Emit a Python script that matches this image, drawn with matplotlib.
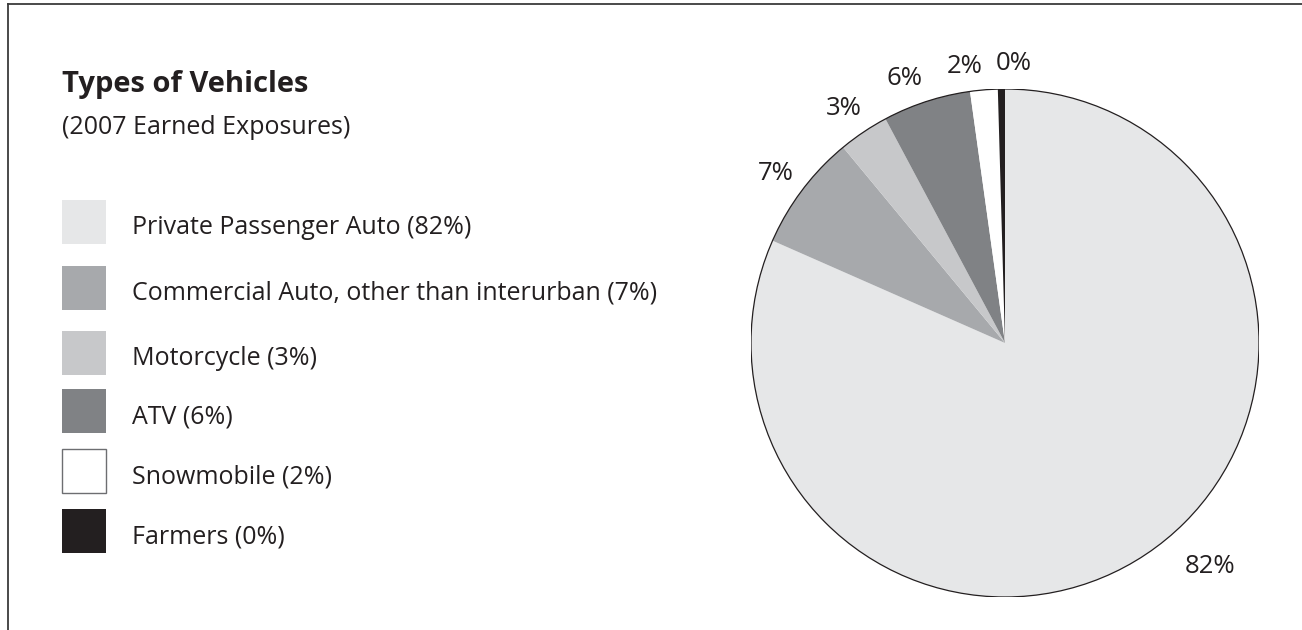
import numpy as np
import matplotlib
matplotlib.use("Agg")
import matplotlib.pyplot as plt
from matplotlib.patches import Rectangle, Circle
from matplotlib.lines import Line2D

# data
categories = ["Private Passenger Auto", "Commercial Auto, other than interurban",
              "Motorcycle", "ATV", "Snowmobile", "Farmers"]
shares = [81.6, 7.4, 3.2, 5.6, 1.75, 0.45]
colors = ["#e6e7e8", "#a7a9ac", "#c7c8ca", "#808285", "#ffffff", "#231f20"]

# label placement tweaks (layout only)
label_dist = [1.195, 1.123, 1.121, 1.115, 1.10, 1.10]
label_shift = [9.4, 0.5, 0.6, 2.7, 3.6, -2.6]
legend_tops = [200, 266, 331, 389, 449, 509]

TEXT = "#231f20"
plt.rcParams["font.family"] = ["Open Sans", "DejaVu Sans"]

W, H = 1302, 630
fig = plt.figure(figsize=(W / 100, H / 100), dpi=100)

# pixel-space overlay for frame, title and legend
bg = fig.add_axes([0, 0, 1, 1])
bg.set_xlim(0, W)
bg.set_ylim(H, 0)
bg.axis("off")

bg.add_line(Line2D([8, W], [4, 4], color="#3a3a3a", lw=1.3))
bg.add_line(Line2D([8, 8], [4, H], color="#3a3a3a", lw=1.3))

bg.text(62, 92, "Types of Vehicles", fontsize=21, fontweight="bold",
        color=TEXT, va="baseline", ha="left")
bg.text(62, 134, "(2007 Earned Exposures)", fontsize=18,
        color=TEXT, va="baseline", ha="left")

for name, val, col, top in zip(categories, shares, colors, legend_tops):
    edge = "#6d6e71" if col == "#ffffff" else "none"
    bg.add_patch(Rectangle((62, top), 44, 44, facecolor=col, edgecolor=edge, lw=1))
    bg.text(132, top + 34, f"{name} ({val:.0f}%)", fontsize=18,
            color=TEXT, va="baseline", ha="left")

# pie
cx, cy, r = 1005, 343, 254
ax = fig.add_axes([(cx - r) / W, (H - cy - r) / H, 2 * r / W, 2 * r / H])
wedges, _ = ax.pie(shares, colors=colors, startangle=90, counterclock=False,
                   radius=1, wedgeprops=dict(linewidth=0))
ax.add_patch(Circle((0, 0), 1, fill=False, edgecolor=TEXT, lw=0.9))
ax.set_xlim(-1, 1)
ax.set_ylim(-1, 1)
ax.axis("off")

for w, val, d, s in zip(wedges, shares, label_dist, label_shift):
    ang = np.deg2rad((w.theta1 + w.theta2) / 2 + s)
    ax.text(d * np.cos(ang), d * np.sin(ang), f"{val:.0f}%", fontsize=18.5,
            color=TEXT, ha="center", va="center", clip_on=False)

fig.savefig("out.png", dpi=100)
